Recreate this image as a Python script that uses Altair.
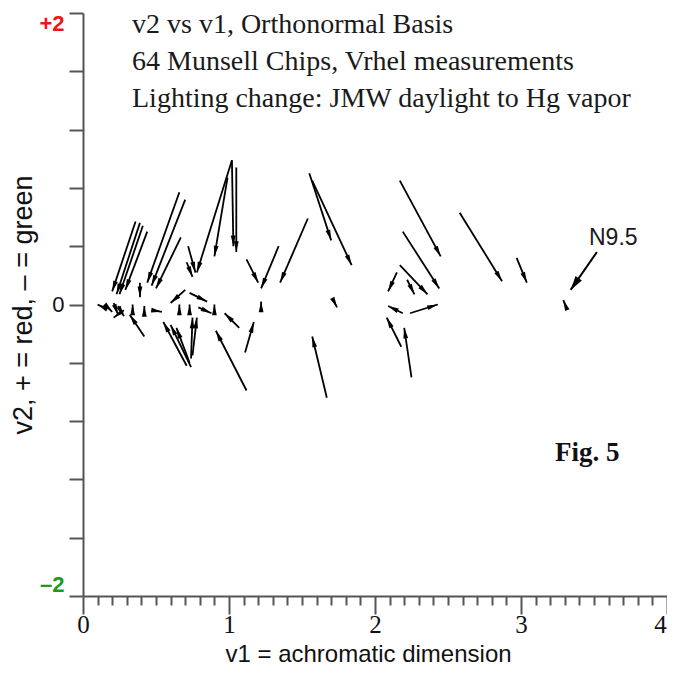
import altair as alt
import pandas as pd

# ---- data: arrow tails (v1, v2) -> heads ----
tail_v1 = [0.36, 0.39, 0.41, 0.44, 0.66, 0.70, 0.67, 1.02, 0.99, 1.02, 1.05, 0.72, 0.71,
           1.12, 1.34, 1.54, 1.55, 1.57, 2.17, 2.19, 2.17, 2.22, 2.15, 2.24, 2.19, 2.18, 2.25,
           1.72, 1.67, 1.22, 1.11, 1.12, 1.07, 0.90, 0.14, 0.34, 0.42, 0.48, 0.42, 0.70, 0.73,
           0.66, 0.73, 0.79, 0.39, 0.15, 0.21, 0.28, 0.24, 0.71, 0.74, 0.73, 0.74, 0.75,
           2.58, 2.97, 3.31]
tail_v2 = [0.57, 0.56, 0.54, 0.50, 0.77, 0.72, 0.46, 0.99, 0.87, 0.99, 0.94, 0.40, 0.29,
           0.31, 0.40, 0.59, 0.90, 0.85, 0.85, 0.50, 0.27, 0.17, 0.22, -0.06, -0.06, -0.29, -0.50,
           0.02, -0.64, -0.04, -0.33, -0.59, -0.16, -0.05, -0.02, -0.05, -0.06, -0.04, -0.22, 0.10, 0.08,
           -0.06, -0.06, -0.02, 0.15, 0.00, 0.01, -0.04, -0.01, -0.42, -0.43, -0.40, -0.37, -0.35,
           0.63, 0.32, -0.02]
head_v1 = [0.20, 0.23, 0.25, 0.29, 0.44, 0.47, 0.50, 0.78, 0.90, 1.03, 1.05, 0.77, 0.75,
           1.20, 1.22, 1.35, 1.70, 1.84, 2.45, 2.44, 2.36, 2.27, 2.09, 2.43, 2.09, 2.08, 2.20,
           1.74, 1.57, 1.22, 1.17, 0.91, 0.97, 0.90, 0.10, 0.34, 0.42, 0.54, 0.32, 0.60, 0.85,
           0.66, 0.73, 0.88, 0.39, 0.20, 0.24, 0.21, 0.28, 0.55, 0.60, 0.64, 0.75, 0.78,
           2.87, 3.04, 3.29]
head_v2 = [0.09, 0.07, 0.07, 0.10, 0.15, 0.13, 0.11, 0.22, 0.33, 0.40, 0.36, 0.22, 0.19,
           0.15, 0.11, 0.15, 0.44, 0.27, 0.33, 0.11, 0.07, 0.07, 0.09, 0.00, -0.01, -0.09, -0.16,
           -0.02, -0.22, 0.02, -0.12, -0.18, -0.06, 0.00, 0.00, 0.00, -0.01, -0.05, -0.07, 0.01, 0.02,
           0.00, 0.00, -0.06, 0.05, -0.05, -0.07, -0.09, -0.08, -0.12, -0.14, -0.16, -0.09, -0.09,
           0.16, 0.15, 0.03]

# annotation arrow pointing at N9.5
note_tail_v1 = [3.52]
note_tail_v2 = [0.36]
note_head_v1 = [3.34]
note_head_v2 = [0.10]

title_lines = ["v2 vs v1, Orthonormal Basis",
               "64 Munsell Chips, Vrhel measurements",
               "Lighting change: JMW daylight to Hg vapor"]
x_ticks = [round(i * 0.1, 1) for i in range(41)]
y_ticks = [round(-2 + 0.4 * i, 1) for i in range(11)]

W, H = 584, 583
SX, SY = W / 4.0, H / 4.0

arrows = pd.DataFrame({"x0": tail_v1, "y0": tail_v2, "x1": head_v1, "y1": head_v2})
note = pd.DataFrame({"x0": note_tail_v1, "y0": note_tail_v2, "x1": note_head_v1, "y1": note_head_v2})

AXIS_GRAY = "#555555"
xscale = alt.Scale(domain=[0, 4], nice=False, zero=False)
yscale = alt.Scale(domain=[-2, 2], nice=False, zero=False)

is_int = "abs(datum.value - round(datum.value)) < 0.01"
xaxis = alt.Axis(
    values=x_ticks, tickCount=len(x_ticks),
    tickSize={"expr": f"{is_int} ? 18 : 9"},
    labelExpr=f"{is_int} ? format(datum.value, 'd') : ''",
    labelOffset={"expr": "datum.value == 4 ? -7 : 0"},
    labelFont="Liberation Serif", labelFontSize=25, labelColor="#111111",
    labelPadding=-2, labelOverlap=False, labelFlush=False,
    title="v1 = achromatic dimension", titleFont="Liberation Sans",
    titleFontSize=24, titleFontWeight="normal", titleColor="#111111",
    titleX=285, titleY=65.5, titleBaseline="alphabetic",
    domainColor=AXIS_GRAY, domainWidth=2, tickColor=AXIS_GRAY, tickWidth=2, grid=False,
)
yaxis = alt.Axis(
    values=y_ticks, tickCount=len(y_ticks),
    tickSize=14,
    labelExpr="datum.value == 2 ? '+2' : datum.value == -2 ? '\u20132' : datum.value == 0 ? '0' : ''",
    labelColor={"expr": "datum.value == 2 ? '#f01414' : datum.value == -2 ? '#1e9a1e' : '#111111'"},
    labelFontWeight={"expr": "datum.value == 0 ? 'normal' : 'bold'"},
    labelBaseline={"expr": "datum.value == 2 ? 'top' : datum.value == -2 ? 'bottom' : 'middle'"},
    labelFont="Liberation Sans", labelFontSize=22, labelPadding=5,
    labelOverlap=False, labelFlush=False,
    title="v2, + = red, \u2013 = green", titleFont="Liberation Sans",
    titleFontSize=27, titleFontWeight="normal", titleColor="#111111", titlePadding=1,
    domainColor=AXIS_GRAY, domainWidth=2, tickColor=AXIS_GRAY, tickWidth=2, grid=False,
)

angle_expr = (f"(atan2((datum.x1 - datum.x0) * {SX}, (datum.y1 - datum.y0) * {SY})"
              " * 180 / PI + 360) % 360")
HEAD = "M0,0L-0.45,2L0.45,2Z"

shafts = alt.Chart(arrows).mark_rule(color="black", strokeWidth=1.8).encode(
    x=alt.X("x0:Q", scale=xscale, axis=xaxis),
    y=alt.Y("y0:Q", scale=yscale, axis=yaxis),
    x2="x1:Q", y2="y1:Q",
)
heads = alt.Chart(arrows).transform_calculate(angle=angle_expr).mark_point(
    shape=HEAD, filled=True, color="black", opacity=1, size=115, strokeWidth=0
).encode(
    x=alt.X("x1:Q", scale=xscale), y=alt.Y("y1:Q", scale=yscale),
    angle=alt.Angle("angle:Q", scale=None),
)
note_shaft = alt.Chart(note).mark_rule(color="black", strokeWidth=2).encode(
    x=alt.X("x0:Q", scale=xscale), y=alt.Y("y0:Q", scale=yscale), x2="x1:Q", y2="y1:Q",
)
note_head = alt.Chart(note).transform_calculate(angle=angle_expr).mark_point(
    shape="M0,0L-0.55,2L0.55,2Z", filled=True, color="black", opacity=1, size=200, strokeWidth=0
).encode(
    x=alt.X("x1:Q", scale=xscale), y=alt.Y("y1:Q", scale=yscale),
    angle=alt.Angle("angle:Q", scale=None),
)

one = alt.Data(values=[{}])
texts = []
for i, line in enumerate(title_lines):
    texts.append(alt.Chart(one).mark_text(
        text=line, font="Liberation Serif", fontSize=28, color="#1a1a1a",
        align="left", baseline="alphabetic"
    ).encode(x=alt.value(49), y=alt.value(20 + 37 * i)))
texts.append(alt.Chart(one).mark_text(
    text="N9.5", font="Liberation Sans", fontSize=23, color="#1a1a1a",
    align="left", baseline="alphabetic").encode(x=alt.value(506), y=alt.value(232)))
texts.append(alt.Chart(one).mark_text(
    text="Fig. 5", font="Liberation Serif", fontSize=27, fontWeight="bold", color="#111111",
    align="left", baseline="alphabetic").encode(x=alt.value(472), y=alt.value(448)))

chart = alt.layer(shafts, heads, note_shaft, note_head, *texts).properties(
    width=W, height=H,
    autosize=alt.AutoSizeParams(type="none"),
    padding={"left": 75, "top": 5, "right": 0, "bottom": 71},
    background="white",
).configure_view(stroke=None)

chart.save("out.html", embed_options={"renderer": "svg", "actions": False})
